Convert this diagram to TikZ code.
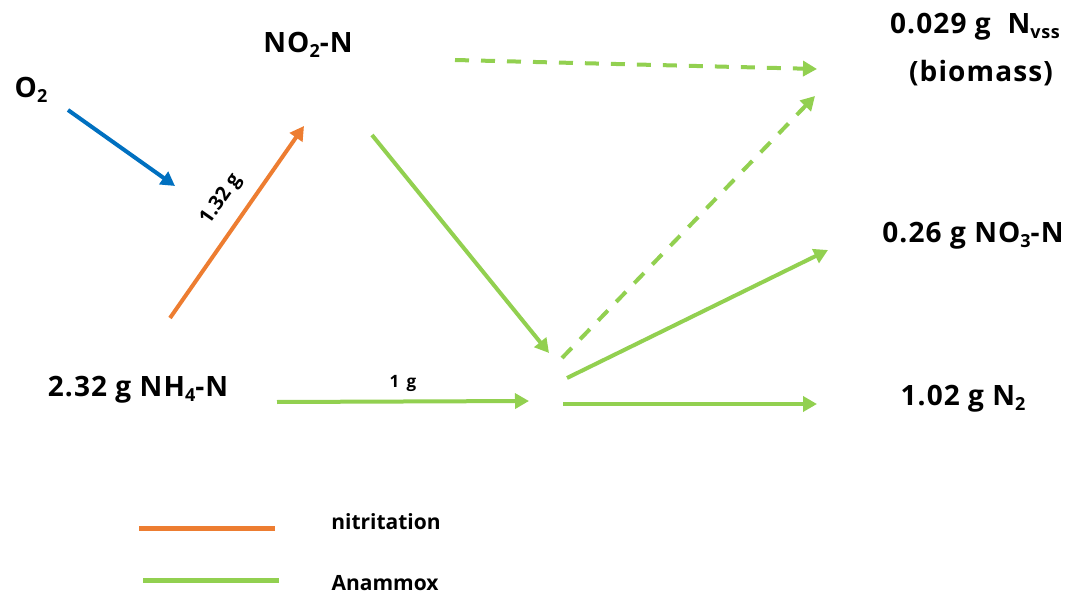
\documentclass[tikz,border=0pt]{standalone}
\usepackage{fontspec}
\setmainfont{Open Sans}
\usepackage{tikz}
\usetikzlibrary{arrows.meta}

\definecolor{oxblue}{HTML}{0070C0}
\definecolor{nitorange}{HTML}{ED7D31}
\definecolor{anagreen}{HTML}{92D050}

\tikzset{
    species/.style={font=\bfseries\fontsize{14}{16}\selectfont\addfontfeatures{LetterSpace=4}, inner sep=0pt},
    flowlabel/.style={font=\bfseries\fontsize{8.5}{10}\selectfont, text=black, inner sep=1pt},
    legendlabel/.style={font=\bfseries\fontsize{10.5}{12}\selectfont, inner sep=0pt},
    flow/.style={line width=2pt, ->},
    partflow/.style={flow, dash pattern=on 7pt off 6pt}
}

\newcommand{\subtx}[1]{\raisebox{-0.3ex}{\fontsize{9}{10}\selectfont #1}}

\begin{document}
\begin{tikzpicture}[x=0.5pt, y=-0.5pt, >={Triangle[length=7pt, width=7.5pt]}]

\useasboundingbox (0,0) rectangle (1080,598);

% --- Species ---
\node[species] (otwo)    at (31, 90)   {O\subtx{2}};
\node[species] (nitrite) at (308, 45)  {NO\subtx{2}-N};
\node[species] (ammon)   at (138, 390) {2.32 g NH\subtx{4}-N};
\node[species] (vss)     at (975, 27)  {0.029 g\ \ N\subtx{vss}};
\node[species] (biom)    at (981, 73)  {(biomass)};
\node[species] (nitrate) at (973, 236) {0.26 g NO\subtx{3}-N};
\node[species] (ntwo)    at (963, 399) {1.02 g N\subtx{2}};

% --- Arrow ends ---
\coordinate (oxS) at (68, 110);   \coordinate (oxE) at (175, 186);
\coordinate (niS) at (170, 318);  \coordinate (niE) at (304, 126);
\coordinate (naS) at (372, 135);  \coordinate (naE) at (549, 353);
\coordinate (amS) at (277, 402);  \coordinate (amE) at (529, 401);
\coordinate (hubA) at (562, 358); \coordinate (bioA) at (815, 96);
\coordinate (nbS) at (455, 60);   \coordinate (bioB) at (817, 69);
\coordinate (hubB) at (567, 378); \coordinate (naE2) at (828, 250);
\coordinate (hubC) at (563, 404); \coordinate (ntE) at (817, 404);

% --- Flows ---
\draw[flow, oxblue] (oxS) -- (oxE);
\draw[flow, nitorange] (niS) -- node[flowlabel, font=\bfseries\fontsize{10}{12}\selectfont, sloped, above=6pt, pos=0.54] (nilab) {1.32 g} (niE);
\draw[flow, anagreen] (naS) -- (naE);
\draw[flow, anagreen] (amS) -- node[flowlabel, above=3pt] (amlab) {1\ \,g} (amE);
\draw[partflow, anagreen] (hubA) -- (bioA);
\draw[partflow, anagreen] (nbS) -- (bioB);
\draw[flow, anagreen] (hubB) -- (naE2);
\draw[flow, anagreen] (hubC) -- (ntE);

% --- Legend ---
\coordinate (lgOa) at (139, 528); \coordinate (lgOb) at (275, 528);
\coordinate (lgGa) at (143, 580); \coordinate (lgGb) at (279, 580);
\draw[line width=2.5pt, nitorange] (lgOa) -- (lgOb);
\draw[line width=2.5pt, anagreen] (lgGa) -- (lgGb);
\node[legendlabel] (lgOt) at (386, 522) {nitritation};
\node[legendlabel] (lgGt) at (385, 583) {Anammox};

\end{tikzpicture}
\end{document}
